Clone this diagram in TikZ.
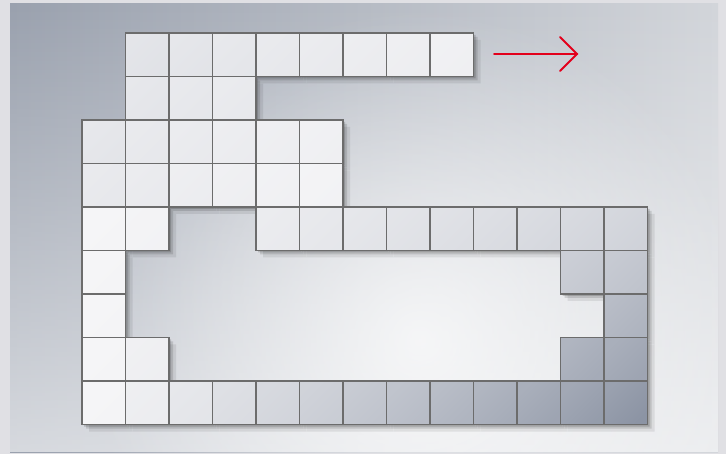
\documentclass[tikz,border=0pt]{standalone}
\usetikzlibrary{fadings}
\tikzfading[name=glowfade, inner color=transparent!0, outer color=transparent!100]
\definecolor{frame}{HTML}{E0E0E4}
\definecolor{bgA}{HTML}{9AA1AE}
\definecolor{bgB}{HTML}{D2D5DA}
\definecolor{clight}{HTML}{F4F4F6}
\definecolor{cdark}{HTML}{8C94A4}
\definecolor{cline}{HTML}{6C6C6C}
\definecolor{arrowred}{HTML}{E3001B}
\def\cells{1/0,2/0,3/0,4/0,5/0,6/0,7/0,8/0,1/1,2/1,3/1,0/2,1/2,2/2,3/2,4/2,5/2,0/3,1/3,2/3,3/3,4/3,5/3,0/4,1/4,4/4,5/4,6/4,7/4,8/4,9/4,10/4,11/4,12/4,0/5,11/5,12/5,0/6,12/6,0/7,1/7,11/7,12/7,0/8,1/8,2/8,3/8,4/8,5/8,6/8,7/8,8/8,9/8,10/8,11/8,12/8}
\begin{document}
\begin{tikzpicture}[x=1pt,y=-1pt,
  cellbox/.style={draw=cline, line width=1.5},
  redline/.style={draw=arrowred, line width=2, line join=miter, line cap=round}]
\useasboundingbox (0,0) rectangle (726,454);
\fill[frame] (0,0) rectangle (726,454);
\begin{scope}
\clip (10,4) rectangle (718,452);
\shade[left color=bgA, right color=bgB] (10,4) rectangle (718,452);
\fill[white, opacity=0.6, path fading=north] (10,4) rectangle (718,452);
\fill[white, opacity=0.75, path fading=glowfade] (420,340) circle (330);
\end{scope}
% shadows
\foreach \o/\op in {2/0.16,4/0.12,7/0.08} {
  \begin{scope}[transparency group, opacity=\op]
    \foreach \c/\r in \cells
      \fill[black] ({82+43.5*\c+\o},{33+43.5*\r+\o}) rectangle +(43.5,43.5);
  \end{scope}
}
% cells
\foreach \c/\r in \cells {
  \pgfmathtruncatemacro\dd{100*(\r<4 ? max(0,0.22-0.02*\c-0.03*\r) : \c/12*(0.35+0.65*(\r-4)/4))}
  \shade[cellbox, top color=cdark!\dd!clight!88!white, bottom color=cdark!\dd!clight, shading angle=45]
    ({82+43.5*\c},{33+43.5*\r}) rectangle +(43.5,43.5);
}
% arrow
\coordinate (as) at (494,54);
\coordinate (ae) at (577,54);
\draw[redline] (as) -- (ae);
\draw[redline] ([shift={(-17,-17)}]ae) -- (ae) -- ([shift={(-17,17)}]ae);
\end{tikzpicture}
\end{document}
